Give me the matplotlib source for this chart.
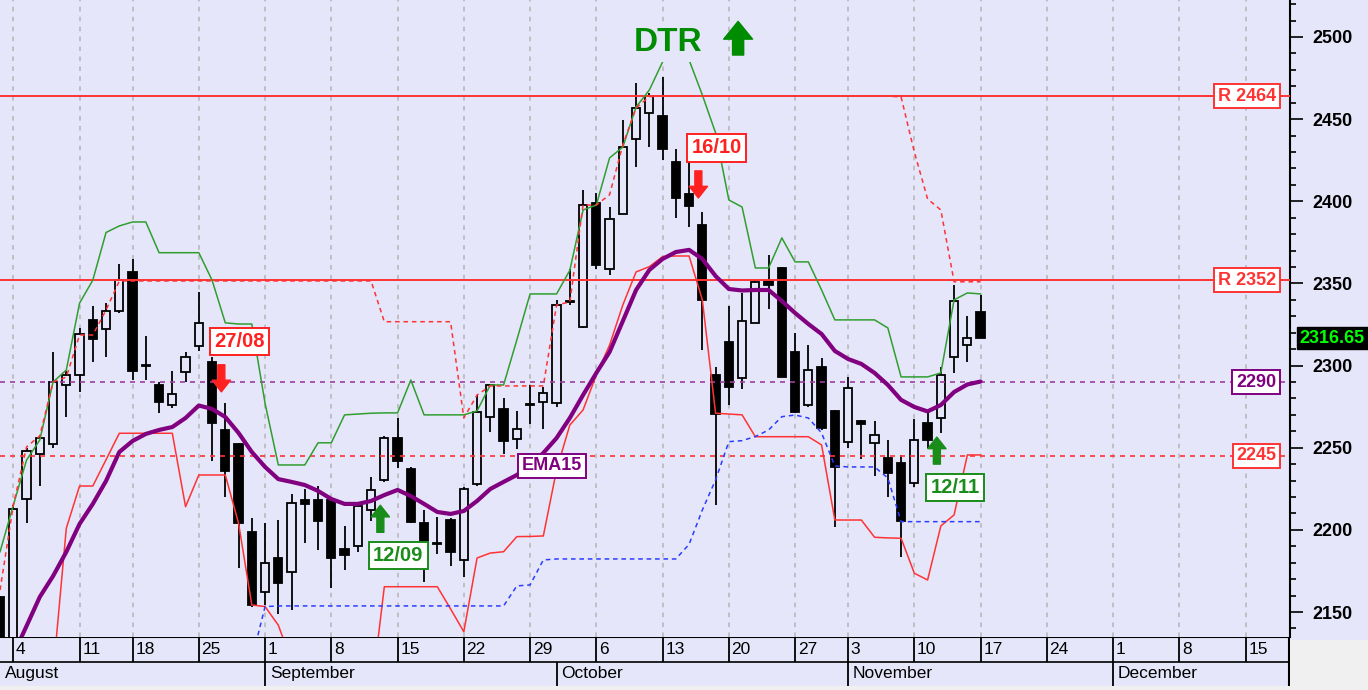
import matplotlib
matplotlib.use('Agg')
import matplotlib.pyplot as plt
import numpy as np
from matplotlib.ticker import MultipleLocator

plt.rcParams['font.family'] = ['Liberation Sans', 'DejaVu Sans']

# trading-day index, 0 = Monday 4 August, 73 = Monday 17 November
days = np.arange(-1, 74)

opens = [2159, 2130, 2219, 2246, 2252, 2288, 2294, 2328, 2322, 2333,
         2357, 2300.5, 2288, 2276, 2296, 2312, 2302, 2261, 2252, 2199,
         2162, 2183, 2174.6, 2218, 2218, 2218, 2188.4, 2190.4, 2212, 2230.4,
         2256, 2237, 2204, 2192, 2206, 2181.7, 2227.7, 2268.5, 2273.6, 2255.3,
         2276.6, 2278, 2277, 2338.5, 2323.7, 2398.8, 2358.6, 2392, 2438, 2453.6,
         2452, 2424, 2404.3, 2385.6, 2294, 2314.5, 2292.3, 2326, 2351.5, 2359.6,
         2308.5, 2276, 2299.3, 2272.6, 2253.7, 2266.3, 2253, 2243.6, 2241, 2228.4,
         2265.2, 2268, 2305.4, 2312.5, 2332.8]
highs = [2160, 2215, 2250, 2258, 2308, 2297, 2323, 2336, 2338, 2362,
         2365, 2318, 2290, 2297, 2308, 2345, 2305, 2277, 2253, 2207,
         2204, 2206, 2222, 2225, 2227, 2218.5, 2202.4, 2215, 2232.4, 2257,
         2268, 2238, 2212, 2208, 2207, 2226.3, 2282, 2289, 2280, 2272.5,
         2288, 2287, 2340, 2359, 2407, 2405, 2396.7, 2449.5, 2471.8, 2466,
         2475.8, 2431.6, 2427, 2393.7, 2299.3, 2336, 2344.4, 2352, 2367.3, 2360,
         2319.7, 2312.5, 2304.4, 2273, 2293, 2267, 2266.5, 2254.7, 2245.6, 2267.3,
         2271, 2299.3, 2349, 2330.2, 2343]
lows = [2120, 2125, 2204, 2227, 2250, 2269, 2284, 2302, 2305, 2332,
        2291, 2291, 2271, 2274, 2290, 2309, 2242, 2220, 2177, 2153,
        2154, 2149, 2151, 2192, 2188, 2164.5, 2175.6, 2186.4, 2205.6, 2229,
        2237.5, 2204, 2168, 2185.3, 2178, 2171.5, 2227, 2259.8, 2246, 2249,
        2264.5, 2261.4, 2275, 2337, 2323, 2359, 2355, 2392, 2421, 2433,
        2425, 2390, 2384.5, 2309.5, 2215, 2276, 2285.6, 2326, 2334.3, 2293,
        2271, 2275, 2261, 2202, 2249.7, 2243, 2232.8, 2220.2, 2183.7, 2226.3,
        2249.7, 2259.2, 2295.3, 2302.4, 2316.7]
closes = [2130, 2213, 2248, 2256, 2290, 2294, 2319, 2316, 2333, 2352,
          2297, 2300, 2278, 2283, 2305, 2326, 2265, 2236, 2204, 2154,
          2180, 2167.5, 2216.6, 2216, 2205.6, 2182.7, 2184.7, 2214.7, 2224.3, 2256,
          2242, 2204.6, 2183.7, 2191.5, 2186.7, 2224.9, 2271.6, 2288.2, 2254, 2261.4,
          2276.3, 2283.5, 2337, 2339, 2397.7, 2361.2, 2389.2, 2433, 2457, 2464,
          2431.6, 2401.8, 2397.3, 2340, 2270.5, 2286.8, 2327.3, 2351, 2349, 2293.2,
          2272, 2297.3, 2261.8, 2238.5, 2286.2, 2264.3, 2257.8, 2234.8, 2205.4, 2255,
          2254.7, 2294.3, 2339.5, 2316.6, 2316.65]

# DTR channel
upper_band = [2186.7, 2215, 2242.5, 2254.7, 2290, 2297.3, 2338, 2352, 2381, 2385,
              2387.4, 2387.4, 2368.7, 2368.7, 2368.7, 2368.7, 2352, 2326, 2325.3, 2325.3,
              2277, 2239.5, 2239.5, 2239.5, 2253, 2253, 2270, 2270.5, 2271, 2271.2,
              2271.2, 2291.2, 2270, 2270, 2270, 2270, 2272.4, 2288.2, 2288.2, 2315.6,
              2343.6, 2343.6, 2343.6, 2358, 2394.7, 2397.7, 2426.4, 2433, 2457.4, 2467.7,
              2484.8, 2499, 2486, 2464.7, 2441.6, 2400.8, 2396.5, 2359.4, 2359.4, 2377.7,
              2363.1, 2363.1, 2346, 2327.8, 2327.8, 2327.8, 2327.8, 2322.9, 2293.1, 2293.1,
              2293.1, 2295.5, 2340, 2344.2, 2343.6]
lower_band = [2080, 2090, 2098, 2105, 2112, 2201, 2226.7, 2226.7, 2242.7, 2258.8,
              2258.8, 2258.8, 2258.8, 2258.8, 2214.1, 2233.4, 2233.4, 2233.4, 2204, 2154.3,
              2153.3, 2142, 2120, 2110, 2110, 2110, 2110, 2110, 2098, 2165.4,
              2165.4, 2165.4, 2165.4, 2165.4, 2151.9, 2138, 2182.9, 2185.9, 2186.7, 2195.9,
              2196, 2196.3, 2236.5, 2263.8, 2273, 2294.3, 2312.5, 2336.9, 2357, 2360.2,
              2366.3, 2366.7, 2366.7, 2340, 2271, 2270.5, 2270, 2256.7, 2256.7, 2256.7,
              2256.7, 2256.7, 2251.7, 2206, 2206, 2206, 2195.5, 2195.1, 2194.9, 2173.6,
              2169.5, 2202.4, 2209.1, 2245.6, 2245.6]
stop_line = [2163.4, 2215, 2250.5, 2257.2, 2290, 2293, 2318.6, 2318.6, 2333.8, 2351.5,
             2351.5, 2351.5, 2351.5, 2351.5, 2351.5, 2351.5, 2351.5, 2351.5, 2351.5, 2351.5,
             2351.5, 2351.5, 2351.5, 2351.5, 2351.5, 2351.5, 2351.5, 2351.5, 2351.5, 2326.7,
             2326.7, 2326.7, 2326.7, 2326.7, 2326.7, 2268.1, 2282.1, 2287.6, 2287.6, 2287.6,
             2287.6, 2287.6, 2336.9, 2338.7, 2397.7, 2397.7, 2404, 2434.3, 2456.8, 2463.7,
             2464, 2464, 2464, 2464, 2464, 2464, 2464, 2464, 2464, 2464,
             2464, 2464, 2464, 2464, 2464, 2464, 2464, 2464, 2463.5, 2430,
             2401.4, 2394.7, 2351, 2351, 2351]
support_line = [np.nan] * 19 + [2121, 2153.3] + [2153.7] * 18 + [
    2165.9, 2166.5, 2181.7] + [2182.3] * 10 + [
    2191.2, 2212.1, 2230.4, 2253.7, 2254.3, 2256.8, 2260.8, 2268.9, 2269.9, 2268.1,
    2259, 2238.9, 2238.3, 2238.3, 2238.3, 2231.6] + [2205] * 7
ema15 = [2106, 2124, 2141.5, 2159.2, 2171.9, 2186.6, 2203.6, 2215.8, 2229.8, 2247.4,
         2254.1, 2258.4, 2260.8, 2262.6, 2268.1, 2275.7, 2273.6, 2268.7, 2259, 2247.4,
         2238.3, 2230.9, 2229.2, 2227.3, 2223.7, 2218.8, 2215.8, 2215.8, 2217.6, 2221.2,
         2224.3, 2220.6, 2215.8, 2210.9, 2209.7, 2211.5, 2217.6, 2224.9, 2229.2, 2233.4,
         2239.5, 2246.8, 2255.9, 2268.1, 2282.1, 2295.5, 2308.3, 2327.1, 2346, 2358.2,
         2364.9, 2369.1, 2370.4, 2364.9, 2354.5, 2346.6, 2345.7, 2346, 2346, 2339.3,
         2332, 2325.3, 2319.2, 2308.9, 2304, 2301, 2295.5, 2288.2, 2279.1, 2274.8,
         2272.1, 2276, 2283.9, 2288.5, 2290.3]

resistances = [2464, 2352]
ema_last = 2290
lower_last = 2245

# signals: day index, label, arrow tip level
sell_days = [16, 52]
sell_labels = ['27/08', '16/10']
sell_tips = [2284, 2402]
buy_days = [28, 70]
buy_labels = ['12/09', '12/11']
buy_tips = [2215, 2256.5]

week_starts = [0, 5, 9, 14, 19, 24, 29, 34, 39, 44, 49, 54, 59, 63, 68, 73, 78, 83, 88, 93]
week_labels = ['4', '11', '18', '25', '1', '8', '15', '22', '29', '6', '13', '20',
               '27', '3', '10', '17', '24', '1', '8', '15']
month_starts = [-1, 19, 41, 63, 83]
month_labels = ['August', 'September', 'October', 'November', 'December']

BG = '#e6e6fa'
GREEN = '#2f9e2f'
RED = '#ff3333'
BLUE = '#2a3cff'
PURPLE = '#800080'
XMIN, XMAX = -1.004, 96.35

fig = plt.figure(figsize=(13.68, 6.9), dpi=100, facecolor=BG)
ax = fig.add_axes([0, 53 / 690, 1290 / 1368, 637 / 690])
ax.set_facecolor(BG)
ax.set_xlim(XMIN, XMAX)
ax.set_ylim(2134.8, 2522.5)
for s in ['left', 'top', 'bottom']:
    ax.spines[s].set_visible(False)
ax.spines['right'].set_linewidth(1.5)
ax.yaxis.tick_right()
ax.yaxis.set_major_locator(MultipleLocator(50))
ax.yaxis.set_minor_locator(MultipleLocator(10))
ax.tick_params(axis='y', which='major', length=9, width=1.2, pad=7, labelsize=13)
ax.tick_params(axis='y', which='minor', length=4, width=1.2)
ax.set_xticks([])
for lab in ax.get_yticklabels():
    lab.set_fontweight('bold')

# week grid
ax.vlines(week_starts, 2134.8, 2522.5, colors='#b4b4b4', lw=1.1,
          linestyles=(0, (3, 3.5)), zorder=1)

# candles
o = np.array(opens)
h = np.array(highs)
l = np.array(lows)
c = np.array(closes)
up = c >= o
body_lo = np.minimum(o, c)
body_h = np.maximum(np.abs(c - o), 0.4)
ax.vlines(days, l, h, colors='black', lw=1.3, zorder=3)
ax.bar(days[up], body_h[up], bottom=body_lo[up], width=0.62, facecolor=BG,
       edgecolor='black', lw=1.3, zorder=4)
ax.bar(days[~up], body_h[~up], bottom=body_lo[~up], width=0.62, facecolor='black',
       edgecolor='black', lw=1.3, zorder=4)

# horizontal levels
for r in resistances:
    ax.axhline(r, color=RED, lw=1.4, zorder=5)
ax.axhline(ema_last, color='#a03ca0', lw=1.2, ls=(0, (3, 3)), zorder=5)
ax.axhline(lower_last, color=RED, lw=1.2, ls=(0, (3, 3)), zorder=5)

# indicators
ax.plot(days, upper_band, color=GREEN, lw=1.1, zorder=5)
ax.plot(days, lower_band, color=RED, lw=1.1, zorder=5)
ax.plot(days, stop_line, color=RED, lw=1.1, ls=(0, (3, 2.5)), zorder=5)
ax.plot(days, support_line, color=BLUE, lw=1.1, ls=(0, (3, 2.5)), zorder=5)
ax.plot(days, ema15, color=PURPLE, lw=3, zorder=6, solid_capstyle='round')


def level_tag(y, text, color):
    ax.annotate(text, xy=(1, y), xycoords=('axes fraction', 'data'),
                xytext=(-10, 0), textcoords='offset points', ha='right', va='center',
                fontsize=13, fontweight='bold', color=color, zorder=9,
                bbox=dict(boxstyle='square,pad=0.2', fc='white', ec=color, lw=1.4))


for r in resistances:
    level_tag(r, 'R %d' % r, RED)
level_tag(ema_last, '%d' % ema_last, PURPLE)
level_tag(lower_last, '%d' % lower_last, RED)

ax.annotate('%.2f' % closes[-1], xy=(1, closes[-1]), xycoords=('axes fraction', 'data'),
            xytext=(7, 0), textcoords='offset points', ha='left', va='center',
            fontsize=13, fontweight='bold', color='#00ff00', annotation_clip=False,
            zorder=9, bbox=dict(boxstyle='square,pad=0.15', fc='black', ec='black'))

ax.text(40.66, 2238.9, 'EMA15', ha='center', va='center', fontsize=13,
        fontweight='bold', color=PURPLE, zorder=9,
        bbox=dict(boxstyle='square,pad=0.2', fc='white', ec=PURPLE, lw=1.4))

arrow_style = 'simple,head_length=0.7,head_width=1.1,tail_width=0.42'


def signal(day, tip, label, color, direction):
    x = day - 0.3
    ax.annotate('', xy=(x, tip), xytext=(0, 19.5 * direction), textcoords='offset points',
                arrowprops=dict(arrowstyle=arrow_style, color=color, mutation_scale=12,
                                shrinkA=0, shrinkB=0), zorder=9)
    ax.annotate(label, xy=(x, tip), xytext=(13, 36 * direction), textcoords='offset points',
                ha='center', va='center', fontsize=14.5, fontweight='bold', color=color,
                zorder=9,
                bbox=dict(boxstyle='square,pad=0.2', fc='white', ec=color, lw=1.4))


for d, lab, t in zip(sell_days, sell_labels, sell_tips):
    signal(d, t, lab, '#ff2020', 1)
for d, lab, t in zip(buy_days, buy_labels, buy_tips):
    signal(d, t, lab, '#1a8c1a', -1)

ax.text(49.4, 2496.7, 'DTR', ha='center', va='center', fontsize=24, fontweight='bold',
        color='#008c00', zorder=9,
        bbox=dict(boxstyle='square,pad=0.12', fc=BG, ec='none'))
ax.annotate('', xy=(54.7, 2509.5), xytext=(54.7, 2489),
            arrowprops=dict(arrowstyle='simple,head_length=0.8,head_width=1.3,tail_width=0.5',
                            color='#008c00', mutation_scale=16, shrinkA=0, shrinkB=0),
            zorder=9)

# date axis (two rows)
ax2 = fig.add_axes([0, 4 / 690, 1290 / 1368, 49 / 690])
ax2.set_xlim(XMIN, XMAX)
ax2.set_ylim(0, 2)
ax2.set_facecolor(BG)
ax2.axis('off')
ax2.axhline(2, color='black', lw=1.5)
ax2.axhline(1, color='black', lw=1.2)
ax2.vlines(week_starts, 1, 2, colors='black', lw=1.3)
ax2.vlines(month_starts[1:], 0, 1, colors='black', lw=1.3)
ax2.vlines([XMAX - 0.05], 0, 2, colors='black', lw=1.5)
for d, lab in zip(week_starts, week_labels):
    ax2.text(d + 0.2, 1.5, lab, ha='left', va='center', fontsize=12.5)
for d, lab in zip(month_starts, month_labels):
    ax2.text(d + 0.35, 0.5, lab, ha='left', va='center', fontsize=12.5)

# light grey corner and bottom strip
fig.patches.append(plt.Rectangle((1290 / 1368, 0), 78 / 1368, 50 / 690,
                                 transform=fig.transFigure, fc='#f0f0f0', ec='none',
                                 zorder=0))
fig.patches.append(plt.Rectangle((0, 0), 1, 4 / 690, transform=fig.transFigure,
                                 fc='#f0f0f0', ec='none', zorder=0))

fig.savefig('out.png', dpi=100, facecolor=BG)
